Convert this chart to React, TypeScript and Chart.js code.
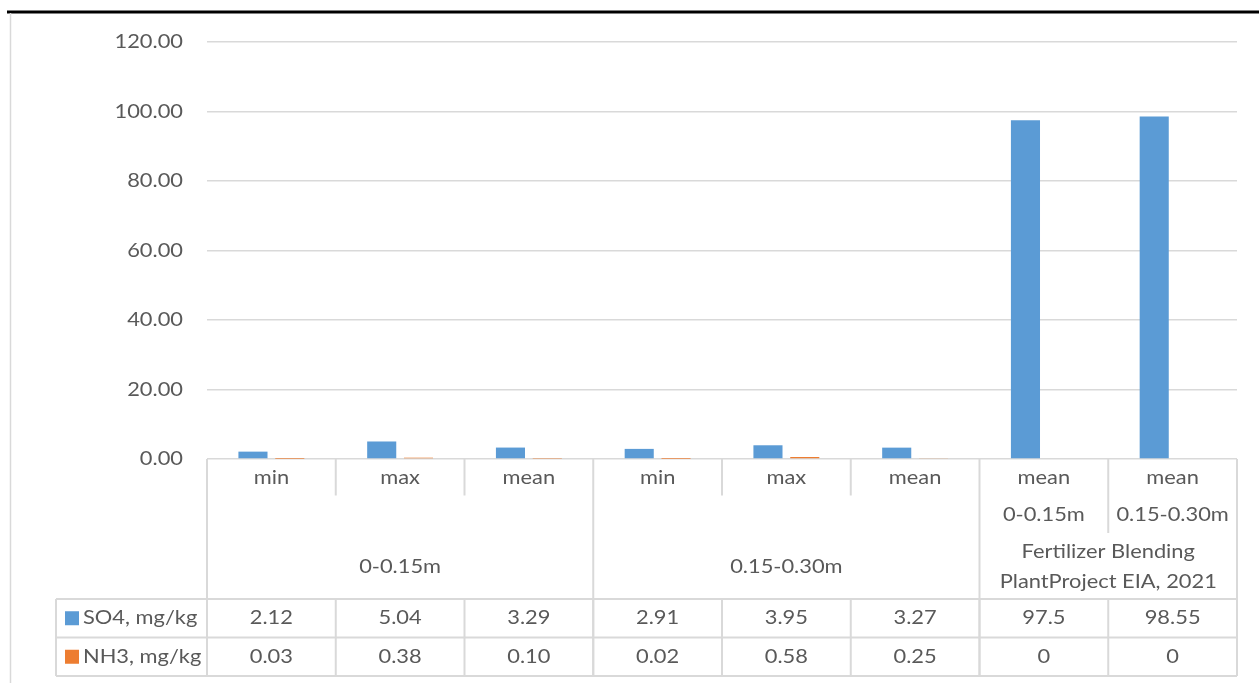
import React, { useEffect, useRef } from "react";
import { Chart, registerables } from "chart.js";

Chart.register(...registerables);

// ---- data ----
const categoryLines: string[][] = [
  ["min"], ["max"], ["mean"],
  ["min"], ["max"], ["mean"],
  ["mean", "0-0.15m"], ["mean", "0.15-0.30m"],
];
const groupLabels: string[][] = [["0-0.15m"], ["0.15-0.30m"], ["Fertilizer Blending", "PlantProject EIA, 2021"]];
const groupSpans: number[] = [3, 3, 2];
const seriesNames: string[] = ["SO4, mg/kg", "NH3, mg/kg"];
const so4Values: number[] = [2.12, 5.04, 3.29, 2.91, 3.95, 3.27, 97.5, 98.55];
const nh3Values: number[] = [0.03, 0.38, 0.1, 0.02, 0.58, 0.25, 0, 0];
const seriesColors: string[] = ["#5B9BD5", "#ED7D31"];
const yTicks: number[] = [0, 20, 40, 60, 80, 100, 120];

const fmtSO4 = (v: number) => String(v);
const fmtNH3 = (v: number) => (v === 0 ? "0" : v.toFixed(2));

const TEXT = "#595959";
const BORDER = "#d9d9d9";
const FONT = "19px Lato";
const SX = 1.15;

function txt(ctx: CanvasRenderingContext2D, s: string, x: number, y: number, align: CanvasTextAlign) {
  ctx.save();
  ctx.translate(x, y);
  ctx.scale(SX, 1);
  ctx.font = FONT;
  ctx.fillStyle = TEXT;
  ctx.textAlign = align;
  ctx.textBaseline = "middle";
  ctx.fillText(s, 0, 0);
  ctx.restore();
}

function line(ctx: CanvasRenderingContext2D, x1: number, y1: number, x2: number, y2: number, color = BORDER, w = 2) {
  ctx.save();
  ctx.strokeStyle = color;
  ctx.lineWidth = w;
  ctx.beginPath();
  ctx.moveTo(x1, y1);
  ctx.lineTo(x2, y2);
  ctx.stroke();
  ctx.restore();
}

const tablePlugin = {
  id: "dataTable",
  afterDraw(chart: any) {
    const ctx: CanvasRenderingContext2D = chart.ctx;
    const area = chart.chartArea;
    const xs = chart.scales.x;
    const ys = chart.scales.y;
    const n = categoryLines.length;
    const cw = (area.right - area.left) / n;
    const edge = (i: number) => area.left + i * cw;

    // frame decorations
    line(ctx, 7, 12, chart.width, 12, "#000000", 3);
    line(ctx, 10.5, 13, 10.5, chart.height, BORDER, 1.5);

    // y tick labels
    ys.ticks.forEach((t: any) => {
      txt(ctx, t.value.toFixed(2), 183, ys.getPixelForValue(t.value), "right");
    });

    const top = ys.getPixelForValue(0);
    const lineH = 37.5;
    const maxLines = Math.max(...categoryLines.map((l) => l.length));
    const catBottom = top + maxLines * lineH;
    const groupBottom = 599;
    const rowH = 38.5;
    const legendLeft = 56;

    // category labels
    categoryLines.forEach((lines, i) => {
      const cx = xs.getPixelForValue(i);
      lines.forEach((s, k) => txt(ctx, s, cx, top + lineH * (k + 0.5), "center"));
    });

    // inner vertical separators within groups, group labels
    let start = 0;
    groupSpans.forEach((span, g) => {
      for (let j = start + 1; j < start + span; j++) {
        const depth = Math.max(categoryLines[j - 1].length, categoryLines[j].length);
        line(ctx, edge(j), top, edge(j), top + depth * lineH - 1);
      }
      const gx = (edge(start) + edge(start + span)) / 2;
      const labels = groupLabels[g];
      const mid = (catBottom + groupBottom) / 2;
      const gh = 30;
      labels.forEach((s, k) => txt(ctx, s, gx, mid + (k - (labels.length - 1) / 2) * gh, "center"));
      start += span;
    });

    // group boundary verticals (full height)
    let acc = 0;
    [0, ...groupSpans].forEach((s) => {
      acc += s;
      line(ctx, edge(acc), top, edge(acc), groupBottom + 2 * rowH);
    });

    // data rows
    const rows = [so4Values.map(fmtSO4), nh3Values.map(fmtNH3)];
    for (let r = 0; r <= 2; r++) {
      const y = groupBottom + r * rowH;
      line(ctx, legendLeft, y, area.right, y);
    }
    line(ctx, legendLeft, groupBottom, legendLeft, groupBottom + 2 * rowH);
    for (let i = 1; i < n; i++) {
      line(ctx, edge(i), groupBottom, edge(i), groupBottom + 2 * rowH);
    }
    rows.forEach((vals, r) => {
      const cy = groupBottom + rowH * (r + 0.5);
      ctx.fillStyle = seriesColors[r];
      ctx.fillRect(65, cy - 7, 14, 14);
      txt(ctx, seriesNames[r], 83, cy, "left");
      vals.forEach((v, i) => txt(ctx, v, xs.getPixelForValue(i), cy, "center"));
    });
  },
};

export default function App() {
  const ref = useRef<HTMLCanvasElement | null>(null);
  useEffect(() => {
    document.body.style.margin = "0";
    const canvas = ref.current!;
    const chart = new Chart(canvas, {
      type: "bar",
      data: {
        labels: categoryLines.map((l) => l.join(" ")),
        datasets: [
          { label: seriesNames[0], data: so4Values, backgroundColor: seriesColors[0] },
          { label: seriesNames[1], data: nh3Values, backgroundColor: seriesColors[1] },
        ],
      },
      options: {
        animation: false,
        responsive: false,
        devicePixelRatio: 1,
        layout: { padding: { left: 207, right: 22, top: 42, bottom: 224 } },
        datasets: { bar: { categoryPercentage: 0.572, barPercentage: 0.79 } },
        plugins: { legend: { display: false }, tooltip: { enabled: false } },
        scales: {
          x: { display: false },
          y: {
            min: 0,
            max: 120,
            afterBuildTicks: (s: any) => {
              s.ticks = yTicks.map((v) => ({ value: v }));
            },
            afterFit: (s: any) => {
              s.width = 0;
            },
            ticks: { display: false },
            border: { display: false },
            grid: { color: BORDER, lineWidth: 1.5, drawTicks: false },
          },
        },
      },
      plugins: [tablePlugin],
    });
    return () => chart.destroy();
  }, []);
  return <canvas ref={ref} width={1259} height={683} style={{ display: "block" }} />;
}
